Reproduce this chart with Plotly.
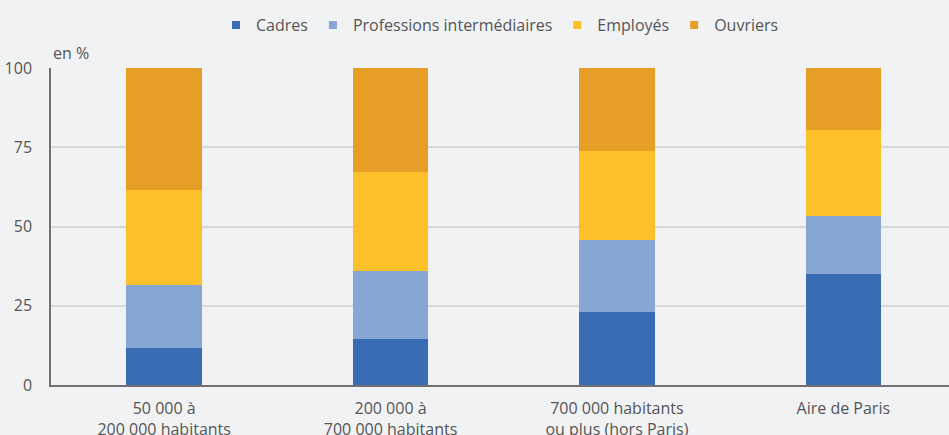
import plotly.graph_objects as go

categories = ["50 000 à<br>200 000 habitants", "200 000 à<br>700 000 habitants",
              "700 000 habitants<br>ou plus (hors Paris)", "Aire de Paris"]
cadres = [11.8, 14.6, 23.0, 34.9]
prof_inter = [19.7, 21.4, 22.6, 18.5]
employes = [30.0, 31.3, 28.1, 26.9]
ouvriers = [38.5, 32.7, 26.3, 19.7]
y_ticks = [0, 25, 50, 75, 100]

series = [
    ("Cadres", cadres, "#3a6cb5"),
    ("Professions intermédiaires", prof_inter, "#86a7d4"),
    ("Employés", employes, "#fec028"),
    ("Ouvriers", ouvriers, "#e79e26"),
]

fig = go.Figure()
for name, vals, col in series:
    fig.add_trace(go.Bar(x=categories, y=vals, name=name, width=0.333, showlegend=False,
                         legendgroup=name, marker=dict(color=col, line=dict(width=0))))
for name, vals, col in series:
    # legend-only entry with a small square symbol
    fig.add_trace(go.Scatter(x=[None], y=[None], mode="markers", name=name, legendgroup=name,
                             marker=dict(symbol="square", size=8, color=col)))

bg = "#f1f2f4"
fig.update_layout(
    width=949, height=435,
    barmode="stack",
    paper_bgcolor=bg, plot_bgcolor=bg,
    margin=dict(l=50.5, r=0, t=67.7, b=50, autoexpand=False),
    font=dict(family="Open Sans", size=16, color="#555555"),
    showlegend=True,
    legend=dict(orientation="h", x=0.5, xanchor="center", y=1.135, yanchor="middle",
                font=dict(size=16, color="#555555"), traceorder="normal",
                itemwidth=30, bgcolor="rgba(0,0,0,0)"),
    xaxis=dict(range=[-0.5, 3.467], showgrid=False, showline=True, linecolor="#707070",
               linewidth=1.5, ticks="", ticklabelstandoff=8, automargin=False,
               tickfont=dict(size=16, color="#555555")),
    yaxis=dict(range=[0, 100], tickvals=y_ticks, showgrid=True, gridcolor="#d6d7d9", gridwidth=1.5,
               showline=True, linecolor="#707070", linewidth=1.5, ticks="", zeroline=False,
               ticklabelstandoff=14, automargin=False, tickfont=dict(size=16, color="#555555")),
    annotations=[dict(text="en %", xref="paper", yref="paper", x=0, y=1, xanchor="left",
                      yanchor="bottom", yshift=2, showarrow=False,
                      font=dict(size=16, color="#555555"))],
)

fig.write_html("out.html")
